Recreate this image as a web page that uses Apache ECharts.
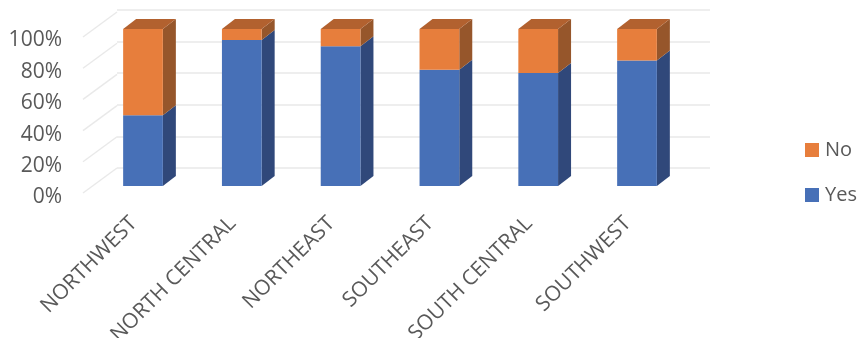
<!DOCTYPE html>
<html><head><meta charset="utf-8">
<style>html,body{margin:0;padding:0;background:#fff}#c{width:859px;height:338px}</style>
<script src="https://cdn.jsdelivr.net/npm/echarts@6/dist/echarts.min.js"></script>
</head><body><div id="c"></div>
<script>
const categories = ['NORTHWEST','NORTH CENTRAL','NORTHEAST','SOUTHEAST','SOUTH CENTRAL','SOUTHWEST'];
const yesValues = [45, 93, 89, 74, 72, 80];
const noValues = [55, 7, 11, 26, 28, 20];
const yTicks = [0, 20, 40, 60, 80, 100];

const FONT = '"Open Sans", sans-serif';
const TEXT = '#595959';
const GRIDC = '#e9e9e9';
const D = [13, -10];            // bar depth offset
const WALL = [34, -25];         // floor depth offset

function barRender(colors) {
  return function (params, api) {
    const i = api.value(0), lo = api.value(1), hi = api.value(2);
    const w = api.size([1, 0])[0] * 0.402;
    const a = api.coord([i, lo]), b = api.coord([i, hi]);
    const l = a[0] - w / 2, r = a[0] + w / 2, y0 = a[1], y1 = b[1];
    const kids = [
      { type: 'polygon', shape: { points: [[r, y0], [r + D[0], y0 + D[1]], [r + D[0], y1 + D[1]], [r, y1]] },
        style: { fill: colors.side } },
      { type: 'rect', shape: { x: l, y: y1, width: w, height: y0 - y1 }, style: { fill: colors.front } }
    ];
    if (hi >= 100) kids.push({ type: 'polygon',
      shape: { points: [[l, y1], [l + D[0], y1 + D[1]], [r + D[0], y1 + D[1]], [r, y1]] },
      style: { fill: colors.top } });
    return { type: 'group', children: kids };
  };
}

const yesData = categories.map((c, i) => [i, 0, yesValues[i]]);
const noData = categories.map((c, i) => [i, yesValues[i], yesValues[i] + noValues[i]]);

const chart = echarts.init(document.getElementById('c'), null, { renderer: 'canvas' });
chart.setOption({
  animation: false,
  backgroundColor: '#ffffff',
  textStyle: { fontFamily: FONT },
  grid: [
    { left: 117, top: 10, width: 593, height: 158, outerBoundsMode: 'none' },   // back wall
    { left: 83, top: 37, width: 600, height: 156, outerBoundsMode: 'none' },    // floor edge
    { left: 93.6, top: 29, width: 592.8, height: 157, outerBoundsMode: 'none' }, // bar front plane
    { left: 83, top: 40.5, width: 600, height: 157, outerBoundsMode: 'none' }   // value labels
  ],
  xAxis: [
    { gridIndex: 0, type: 'value', show: false, min: 0, max: 1 },
    { gridIndex: 1, type: 'value', show: false, min: 0, max: 1 },
    { gridIndex: 2, type: 'category', data: categories,
      axisLine: { show: false }, axisTick: { show: false },
      axisLabel: { interval: 0, rotate: 45, margin: 25, padding: [0, 13, 0, 0], color: TEXT, fontSize: 21, fontFamily: FONT } },
    { gridIndex: 3, type: 'value', show: false, min: 0, max: 1 }
  ],
  yAxis: [
    { gridIndex: 0, type: 'value', min: 0, max: 100, interval: 20,
      axisLine: { show: false }, axisTick: { show: false }, axisLabel: { show: false },
      splitLine: { show: true, lineStyle: { color: GRIDC, width: 1.6 } } },
    { gridIndex: 1, type: 'value', min: 0, max: 100, interval: 20, show: false, splitLine: { show: false } },
    { gridIndex: 2, type: 'value', min: 0, max: 100, show: false, splitLine: { show: false } },
    { gridIndex: 3, type: 'value', min: 0, max: 100, interval: 20,
      axisLine: { show: false }, axisTick: { show: false }, splitLine: { show: false },
      axisLabel: { color: TEXT, fontSize: 21, margin: 21, fontFamily: FONT, formatter: '{value}%' } }
  ],
  legend: {
    orient: 'vertical', left: 805, top: 140, itemWidth: 14, itemHeight: 14, itemGap: 25,
    icon: 'rect', data: ['No', 'Yes'],
    textStyle: { color: TEXT, fontSize: 20, fontFamily: FONT, padding: [0, 0, 0, 1] },
    padding: 0
  },
  series: [
    { type: 'custom', name: 'floor', xAxisIndex: 1, yAxisIndex: 1, silent: true, z: 1,
      data: yTicks.map(t => [0, t]),
      encode: { x: 0, y: 1 },
      renderItem: function (p, api) {
        const a = api.coord([0, api.value(1)]);
        return { type: 'line', shape: { x1: a[0], y1: a[1], x2: a[0] + WALL[0], y2: a[1] + WALL[1] },
          style: { stroke: GRIDC, lineWidth: 1.4 } };
      } },
    { type: 'custom', name: 'Yes', xAxisIndex: 2, yAxisIndex: 2, z: 3,
      itemStyle: { color: '#4770b7' },
      encode: { x: 0, y: [1, 2] }, data: yesData,
      renderItem: barRender({ front: '#4770b7', side: '#30487a', top: '#30487a' }) },
    { type: 'custom', name: 'No', xAxisIndex: 2, yAxisIndex: 2, z: 4,
      itemStyle: { color: '#e77e3c' },
      encode: { x: 0, y: [1, 2] }, data: noData,
      renderItem: barRender({ front: '#e77e3c', side: '#96562b', top: '#b2612f' }) }
  ]
});
</script></body></html>
